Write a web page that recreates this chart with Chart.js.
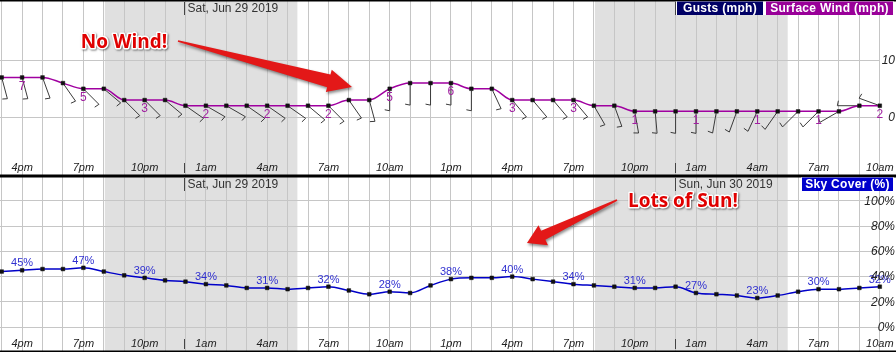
<!DOCTYPE html>
<html><head><meta charset="utf-8">
<script src="https://cdn.jsdelivr.net/npm/chart.js@4.4.1/dist/chart.umd.min.js"></script>
<style>
html,body{margin:0;padding:0;background:#fff;}
#wrap{position:relative;width:896px;height:352px;overflow:hidden;background:#fff;}
canvas{position:absolute;left:0;display:block;}
#c1{top:0}#c2{top:176px}
</style></head><body>
<div id="wrap"><canvas id="c1" width="896" height="176"></canvas><canvas id="c2" width="896" height="176"></canvas></div>
<script>
// ---- data ----
const times = ["3pm","4pm","5pm","6pm","7pm","8pm","9pm","10pm","11pm","12am",
  "1am","2am","3am","4am","5am","6am","7am","8am","9am","10am","11am","12pm",
  "1pm","2pm","3pm","4pm","5pm","6pm","7pm","8pm","9pm","10pm","11pm","12am",
  "1am","2am","3am","4am","5am","6am","7am","8am","9am","10am"];
const windSpeed = [7,7,7,6,5,5,3,3,3,2,2,2,2,2,2,2,2,3,3,5,6,6,6,5,5,3,3,3,3,2,2,1,1,1,1,1,1,1,1,1,1,1,2,2];
const windDir = [165,165,160,145,135,130,135,135,130,125,120,120,125,125,125,130,135,145,165,180,180,180,180,180,155,140,140,140,140,150,160,170,175,180,180,190,200,205,215,225,225,240,270,290];
const skyCover = [44,45,46,46,47,44,41,39,37,36,34,33,31,31,30,31,32,29,26,28,27,33,38,39,39,40,38,36,34,33,32,31,31,32,27,26,25,23,25,28,30,30,31,32];
const windTicks = [0, 10];
const skyTicks = [0, 20, 40, 60, 80, 100];
const nightStart = [5.05, 29.05];
const nightEnd = [14.48, 38.49];
const dayStarts = [9, 33];
const dayNames = ["Sat, Jun 29 2019", "Sun, Jun 30 2019"];
const topLegend = ["Gusts (mph)", "Surface Wind (mph)"];
const bottomLegend = ["Sky Cover (%)"];
const notes = ["No Wind!", "Lots of Sun!"];

// ---- styling ----
const FONT = '"Liberation Sans", Arial, sans-serif';
const GRID = '#c6c6c6';
const SHADE = '#e0e0e0';

function xScaleCfg(){
  return {
    type:'linear', min:-0.083, max:43.01, display:true,
    afterFit(s){ s.height = 0; },
    afterBuildTicks(s){ s.ticks = times.map((_,i)=>({value:i})); },
    ticks:{display:false},
    grid:{color:GRID, lineWidth:1, drawTicks:false},
    border:{display:false}
  };
}
function yScaleCfg(min, max, tickVals, fmt){
  return {
    position:'right', min, max,
    afterFit(s){ s.width = 16; },
    afterBuildTicks(s){ s.ticks = tickVals.map(v=>({value:v})); },
    ticks:{display:false, callback:fmt},
    grid:{color:GRID, lineWidth:1, drawTicks:false},
    border:{display:false}
  };
}

function drawArrow(ctx, tx, ty, px, py, headLen, headHalf, shaftHalf){
  const L = Math.hypot(px-tx, py-ty), ux=(px-tx)/L, uy=(py-ty)/L, nx=-uy, ny=ux;
  const bx = px-ux*headLen, by = py-uy*headLen;
  ctx.save();
  ctx.shadowColor='rgba(0,0,0,0.45)'; ctx.shadowBlur=3; ctx.shadowOffsetX=1; ctx.shadowOffsetY=2;
  ctx.beginPath();
  ctx.moveTo(tx+nx*0.8, ty+ny*0.8);
  ctx.lineTo(bx+nx*shaftHalf, by+ny*shaftHalf);
  ctx.lineTo(bx+nx*headHalf, by+ny*headHalf);
  ctx.lineTo(px, py);
  ctx.lineTo(bx-nx*headHalf, by-ny*headHalf);
  ctx.lineTo(bx-nx*shaftHalf, by-ny*shaftHalf);
  ctx.lineTo(tx-nx*0.8, ty-ny*0.8);
  ctx.closePath();
  ctx.fillStyle='#e31818'; ctx.fill();
  ctx.restore();
}
function drawNote(ctx, text, cx, cy){
  ctx.save();
  ctx.font = 'bold 19px "Open Sans", sans-serif';
  ctx.textAlign='center'; ctx.textBaseline='middle';
  ctx.shadowColor='rgba(0,0,0,0.5)'; ctx.shadowBlur=2; ctx.shadowOffsetX=1; ctx.shadowOffsetY=1;
  ctx.lineJoin='round'; ctx.strokeStyle='#fff'; ctx.lineWidth=3;
  ctx.strokeText(text, cx, cy);
  ctx.shadowColor='transparent';
  ctx.fillStyle='#e00000';
  ctx.fillText(text, cx, cy);
  ctx.restore();
}
function legendBoxes(ctx, names, colors, lefts, widths){
  ctx.save();
  ctx.fillStyle='#fff';
  ctx.fillRect(lefts[0]-1, 1.5, lefts[names.length-1]+widths[names.length-1]-lefts[0]+2, 13.5);
  ctx.font = 'bold 12px '+FONT;
  ctx.letterSpacing = '0.3px';
  ctx.textAlign='center'; ctx.textBaseline='middle';
  names.forEach((n,i)=>{
    ctx.fillStyle=colors[i]; ctx.fillRect(lefts[i], 1.5, widths[i], 13.5);
    ctx.fillStyle='#fff'; ctx.fillText(n, lefts[i]+widths[i]/2, 8.6);
  });
  ctx.restore();
}

function decor(kind){
  return {
    id:'decor_'+kind,
    beforeDraw(chart){
      const {ctx, scales:{x}} = chart;
      ctx.save(); ctx.fillStyle=SHADE;
      nightStart.forEach((s,i)=>{
        const a=x.getPixelForValue(s), b=x.getPixelForValue(nightEnd[i]);
        ctx.fillRect(a,0,b-a,chart.height);
      });
      ctx.restore();
    },
    beforeDatasetsDraw(chart){
      if(kind!=='wind') return;
      const ctx=chart.ctx, meta=chart.getDatasetMeta(0);
      ctx.save(); ctx.strokeStyle='#3a3a3a'; ctx.lineWidth=1;
      meta.data.forEach((el,i)=>{
        const d=windDir[i]*Math.PI/180, vx=Math.sin(d), vy=-Math.cos(d);
        const sx=el.x+vx*2, sy=el.y+vy*2, ex=el.x+vx*22, ey=el.y+vy*22;
        const tx=-vy, ty=vx;
        ctx.beginPath(); ctx.moveTo(sx,sy); ctx.lineTo(ex,ey);
        ctx.lineTo(ex+tx*5-vx*1, ey+ty*5-vy*1); ctx.stroke();
      });
      ctx.restore();
    },
    afterDatasetsDraw(chart){
      const ctx=chart.ctx, meta=chart.getDatasetMeta(0);
      const vals = kind==='wind'?windSpeed:skyCover;
      ctx.save();
      ctx.textAlign='center'; ctx.textBaseline='middle';
      if(kind==='wind'){ ctx.font='12px '+FONT; ctx.fillStyle='#a020a0'; }
      else { ctx.font='11px '+FONT; ctx.fillStyle='#3030d0'; }
      meta.data.forEach((el,i)=>{
        if(i%3!==1) return;
        if(kind==='wind') ctx.fillText(String(vals[i]), el.x, el.y+9);
        else ctx.fillText(vals[i]+'%', el.x, el.y-7);
      });
      ctx.restore();
    },
    afterDraw(chart){
      const ctx=chart.ctx, x=chart.scales.x, y=chart.scales.y, W=chart.width;
      ctx.save();
      // y tick labels (from the y scale's own ticks)
      ctx.font='italic 12px '+FONT; ctx.fillStyle='#222'; ctx.textAlign='right'; ctx.textBaseline='middle';
      y.ticks.forEach(t=>{ ctx.fillText(y.options.ticks.callback(t.value), W-1, y.getPixelForValue(t.value)+0.5); });
      // time labels
      ctx.font='italic 11px '+FONT; ctx.fillStyle='#222'; ctx.textAlign='center';
      times.forEach((t,i)=>{ if(i%3===1) ctx.fillText(t, x.getPixelForValue(i), 167.5); });
      // day headers + midnight ticks
      ctx.font='12px '+FONT; ctx.fillStyle='#333'; ctx.textAlign='left';
      ctx.strokeStyle='#444'; ctx.lineWidth=1;
      dayStarts.forEach((d,i)=>{
        const px=Math.round(x.getPixelForValue(d))-0.5;
        ctx.beginPath(); ctx.moveTo(px,2); ctx.lineTo(px,15); ctx.moveTo(px,163); ctx.lineTo(px,173); ctx.stroke();
        ctx.fillText(dayNames[i], px+3, 9);
      });
      // frame lines
      ctx.fillStyle='#000';
      ctx.fillRect(0,0,W,1.5); ctx.fillRect(0,174.5,W,1.5);
      ctx.restore();
      if(kind==='wind'){
        legendBoxes(ctx, topLegend, ['#000066','#990099'], [677,766], [86,127]);
        drawArrow(ctx, 178, 41, 352, 87, 24, 11.5, 6.5);
        drawNote(ctx, notes[0], 124, 43);
      } else {
        legendBoxes(ctx, bottomLegend, ['#0000cc'], [802], [91]);
        drawArrow(ctx, 617, 24, 527, 67, 18, 11, 5);
        drawNote(ctx, notes[1], 683, 26);
      }
    }
  };
}

const common = {
  responsive:false, animation:false, devicePixelRatio:1,
  layout:{padding:0, autoPadding:false},
  plugins:{legend:{display:false}, tooltip:{enabled:false}},
  events:[]
};

new Chart(document.getElementById('c1'), {
  type:'line',
  data:{datasets:[{
    data: windSpeed.map((v,i)=>({x:i,y:v})),
    borderColor:'#a000a0', borderWidth:1.5,
    cubicInterpolationMode:'monotone',
    pointStyle:'rect', pointRadius:2.6, pointBackgroundColor:'#111', pointBorderColor:'#111', pointBorderWidth:0.5,
    clip:false
  }]},
  options:Object.assign({}, common, {
    scales:{ x:xScaleCfg(), y:yScaleCfg(-10.44, 20.71, windTicks, v=>String(v)) }
  }),
  plugins:[decor('wind')]
});

new Chart(document.getElementById('c2'), {
  type:'line',
  data:{datasets:[{
    data: skyCover.map((v,i)=>({x:i,y:v})),
    borderColor:'#0000c8', borderWidth:1.5,
    cubicInterpolationMode:'monotone',
    pointStyle:'rect', pointRadius:2.6, pointBackgroundColor:'#111', pointBorderColor:'#111', pointBorderWidth:0.5,
    clip:false
  }]},
  options:Object.assign({}, common, {
    scales:{ x:xScaleCfg(), y:yScaleCfg(-19.84, 119.84, skyTicks, v=>v+'%') }
  }),
  plugins:[decor('sky')]
});
</script>
</body></html>
